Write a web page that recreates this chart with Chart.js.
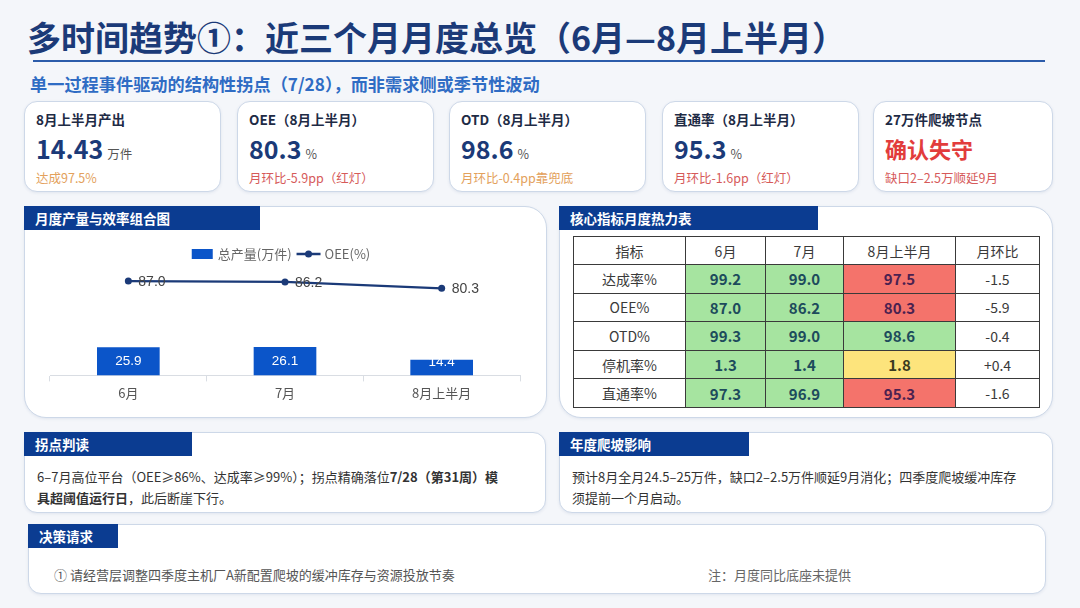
<!DOCTYPE html>
<html><head><meta charset="utf-8">
<script src="https://cdn.jsdelivr.net/npm/chart.js@4.4.1/dist/chart.umd.min.js"></script>
<style>
*{box-sizing:border-box;margin:0;padding:0}
body{width:1080px;height:608px;background:#f4f6fa;font-family:"Noto Sans CJK SC","Noto Sans",sans-serif;position:relative;overflow:hidden;color:#222}
.abs{position:absolute}
#title{left:27px;top:12px;font-size:34px;font-weight:700;color:#1b3a78;white-space:nowrap;letter-spacing:0px}
#rule{left:33px;top:60px;width:1012px;height:2px;background:#2c5caa}
#sub{left:30px;top:71px;font-size:17.2px;font-weight:700;color:#2f6cc4;white-space:nowrap}
.card{position:absolute;background:#fff;border:1px solid #cdd8e8;border-radius:13px;box-shadow:0 1px 3px rgba(60,90,140,.10)}
.kl{position:absolute;left:11px;top:7px;font-size:13.5px;font-weight:700;color:#1e2b45;white-space:nowrap}
.kv{position:absolute;left:11px;top:28px;font-size:25px;font-weight:700;color:#1b3a78;white-space:nowrap}
.kv span{font-size:12.5px;font-weight:400;color:#555;margin-left:4px}
.ks{position:absolute;left:11px;top:66px;font-size:12.5px;white-space:nowrap}
.banner{position:absolute;background:#0b3c91;color:#fff;font-size:13.5px;font-weight:700;padding-left:11px;line-height:24px;height:24px}
.txt{position:absolute;font-size:13px;color:#333;line-height:21px;white-space:nowrap}
table{border-collapse:collapse;position:absolute;left:573px;top:236px;width:466px;table-layout:fixed}
td{border:1px solid #3a3a3a;text-align:center;font-size:14px;color:#3a3a3a;height:28.6px;padding:0}
td.v{font-weight:700;font-size:15px;color:#1d4b5c}
td.green{background:#a6e4a0}
td.red{background:#f4736b;color:#4b2150}
td.yellow{background:#fde47c;color:#3a3a20}
</style></head>
<body>
<div id="title" class="abs">多时间趋势①：近三个月月度总览（6月—8月上半月）</div>
<div id="rule" class="abs"></div>
<div id="sub" class="abs">单一过程事件驱动的结构性拐点（7/28），而非需求侧或季节性波动</div>

<div class="card" style="left:24px;top:101px;width:197px;height:91px">
 <div class="kl">8月上半月产出</div>
 <div class="kv">14.43<span>万件</span></div>
 <div class="ks" style="color:#e3a15c">达成97.5%</div>
</div>
<div class="card" style="left:237px;top:101px;width:197px;height:91px">
 <div class="kl">OEE（8月上半月）</div>
 <div class="kv">80.3<span>%</span></div>
 <div class="ks" style="color:#d65a5a">月环比-5.9pp（红灯）</div>
</div>
<div class="card" style="left:449px;top:101px;width:197px;height:91px">
 <div class="kl">OTD（8月上半月）</div>
 <div class="kv">98.6<span>%</span></div>
 <div class="ks" style="color:#e3a15c">月环比-0.4pp靠兜底</div>
</div>
<div class="card" style="left:662px;top:101px;width:197px;height:91px">
 <div class="kl">直通率（8月上半月）</div>
 <div class="kv">95.3<span>%</span></div>
 <div class="ks" style="color:#d65a5a">月环比-1.6pp（红灯）</div>
</div>
<div class="card" style="left:873px;top:101px;width:180px;height:91px">
 <div class="kl">27万件爬坡节点</div>
 <div class="kv" style="color:#e23c3c;font-size:22px;top:30px">确认失守</div>
 <div class="ks" style="color:#d65a5a">缺口2–2.5万顺延9月</div>
</div>

<div class="card" style="left:24px;top:206px;width:523px;height:212px;border-radius:22px"></div>
<div class="banner" style="left:24px;top:206px;width:236px">月度产量与效率组合图</div>
<div class="abs" style="left:24px;top:230px;width:522px;height:188px"><canvas id="c"></canvas></div>

<div class="card" style="left:559px;top:206px;width:494px;height:212px;border-radius:22px"></div>
<div class="banner" style="left:559px;top:206px;width:259px">核心指标月度热力表</div>
<table id="heat"></table>

<div class="card" style="left:24px;top:432px;width:522px;height:81px"></div>
<div class="banner" style="left:24px;top:432px;width:168px">拐点判读</div>
<div class="txt" style="left:37px;top:466px">6–7月高位平台（OEE≥86%、达成率≥99%）；拐点精确落位<b>7/28（第31周）模</b><br><b>具超阈值运行日</b>，此后断崖下行。</div>

<div class="card" style="left:559px;top:432px;width:494px;height:81px"></div>
<div class="banner" style="left:559px;top:432px;width:190px">年度爬坡影响</div>
<div class="txt" style="left:572px;top:466px">预计8月全月24.5–25万件，缺口2–2.5万件顺延9月消化；四季度爬坡缓冲库存<br>须提前一个月启动。</div>

<div class="card" style="left:28px;top:524px;width:1018px;height:70px"></div>
<div class="banner" style="left:28px;top:524px;width:90px">决策请求</div>
<div class="txt" style="left:54px;top:564px;color:#555">① 请经营层调整四季度主机厂A新配置爬坡的缓冲库存与资源投放节奏</div>
<div class="txt" style="left:708px;top:564px;color:#666">注：月度同比底座未提供</div>

<script>
// ---- chart data ----
const months = ['6月', '7月', '8月上半月'];
const outputWan = [25.9, 26.1, 14.4];
const oeePct = [87.0, 86.2, 80.3];
const seriesNames = ['总产量(万件)', 'OEE(%)'];

// ---- heatmap data ----
const heatHeader = ['指标', '6月', '7月', '8月上半月', '月环比'];
const heatRows = ['达成率%', 'OEE%', 'OTD%', '停机率%', '直通率%'];
const junVals = ['99.2', '87.0', '99.3', '1.3', '97.3'];
const julVals = ['99.0', '86.2', '99.0', '1.4', '96.9'];
const augVals = ['97.5', '80.3', '98.6', '1.8', '95.3'];
const momVals = ['-1.5', '-5.9', '-0.4', '+0.4', '-1.6'];
const junStatus = ['green', 'green', 'green', 'green', 'green'];
const julStatus = ['green', 'green', 'green', 'green', 'green'];
const augStatus = ['red', 'red', 'green', 'yellow', 'red'];

// build table
(function(){
  const t = document.getElementById('heat');
  const widths = [112, 80, 78, 112, 84];
  let h = '<colgroup>' + widths.map(w => '<col style="width:' + w + 'px">').join('') + '</colgroup>';
  h += '<tr>' + heatHeader.map(x => '<td style="height:28px">' + x + '</td>').join('') + '</tr>';
  heatRows.forEach((r, i) => {
    h += '<tr><td>' + r + '</td>' +
      '<td class="v ' + junStatus[i] + '">' + junVals[i] + '</td>' +
      '<td class="v ' + julStatus[i] + '">' + julVals[i] + '</td>' +
      '<td class="v ' + augStatus[i] + '">' + augVals[i] + '</td>' +
      '<td>' + momVals[i] + '</td></tr>';
  });
  t.innerHTML = h;
})();

const BAR = '#0b55c9', LINE = '#1b3a78';
const FONT = '"Liberation Sans", Arial, sans-serif';

const valuePlugin = {
  id: 'vals',
  afterDatasetsDraw(chart) {
    const ctx = chart.ctx;
    ctx.save();
    ctx.textBaseline = 'middle';
    const bm = chart.getDatasetMeta(1);
    ctx.font = '13.5px ' + FONT;
    ctx.fillStyle = '#ffffff';
    ctx.textAlign = 'center';
    bm.data.forEach((el, i) => {
      const y = Math.min((el.y + el.base) / 2, el.base - 13);
      ctx.fillText(outputWan[i].toFixed(1), el.x, y);
    });
    const lm = chart.getDatasetMeta(0);
    ctx.font = '14px ' + FONT;
    ctx.fillStyle = '#444';
    ctx.textAlign = 'left';
    lm.data.forEach((el, i) => {
      ctx.fillText(oeePct[i].toFixed(1), el.x + 10, el.y + 1);
    });
    ctx.restore();
  },
  afterDraw(chart) {
    // legend
    const ctx = chart.ctx;
    ctx.save();
    ctx.font = '13px "Noto Sans CJK SC", ' + FONT;
    ctx.textBaseline = 'middle';
    const y = 24;
    const w1 = ctx.measureText(seriesNames[0]).width;
    const w2 = ctx.measureText(seriesNames[1]).width;
    const total = 21 + 5 + w1 + 5 + 24 + 4 + w2;
    let x = chart.width / 2 - total / 2 - 4;
    ctx.fillStyle = BAR;
    ctx.fillRect(x, y - 5, 21, 10);
    x += 26;
    ctx.fillStyle = '#666';
    ctx.textAlign = 'left';
    ctx.fillText(seriesNames[0], x, y);
    x += w1 + 5;
    ctx.strokeStyle = LINE; ctx.lineWidth = 2.5;
    ctx.beginPath(); ctx.moveTo(x, y); ctx.lineTo(x + 24, y); ctx.stroke();
    ctx.fillStyle = LINE;
    ctx.beginPath(); ctx.arc(x + 12, y, 3.5, 0, Math.PI * 2); ctx.fill();
    x += 28;
    ctx.fillStyle = '#666';
    ctx.fillText(seriesNames[1], x, y);
    ctx.restore();
  }
};

new Chart(document.getElementById('c'), {
  data: {
    labels: months,
    datasets: [
      { type: 'line', label: seriesNames[1], data: oeePct, borderColor: LINE, backgroundColor: LINE,
        borderWidth: 2.2, pointRadius: 3.5, pointBackgroundColor: LINE, pointBorderWidth: 0, tension: 0, order: 0 },
      { type: 'bar', label: seriesNames[0], data: outputWan, backgroundColor: BAR,
        categoryPercentage: 0.8, barPercentage: 0.5, order: 1 }
    ]
  },
  options: {
    responsive: true, maintainAspectRatio: false, animation: false,
    layout: { padding: { top: 37, left: 26, right: 26, bottom: 13 } },
    plugins: { legend: { display: false }, tooltip: { enabled: false } },
    scales: {
      x: {
        offset: true,
        grid: { drawOnChartArea: false, drawTicks: true, tickLength: 6, color: '#d9dde3' },
        border: { color: '#d9dde3' },
        ticks: { color: '#555', font: { size: 13, family: '"Noto Sans CJK SC", ' + FONT }, padding: 4 }
      },
      y: { display: false, min: 0, max: 100 }
    }
  },
  plugins: [valuePlugin]
});
</script>
</body></html>
